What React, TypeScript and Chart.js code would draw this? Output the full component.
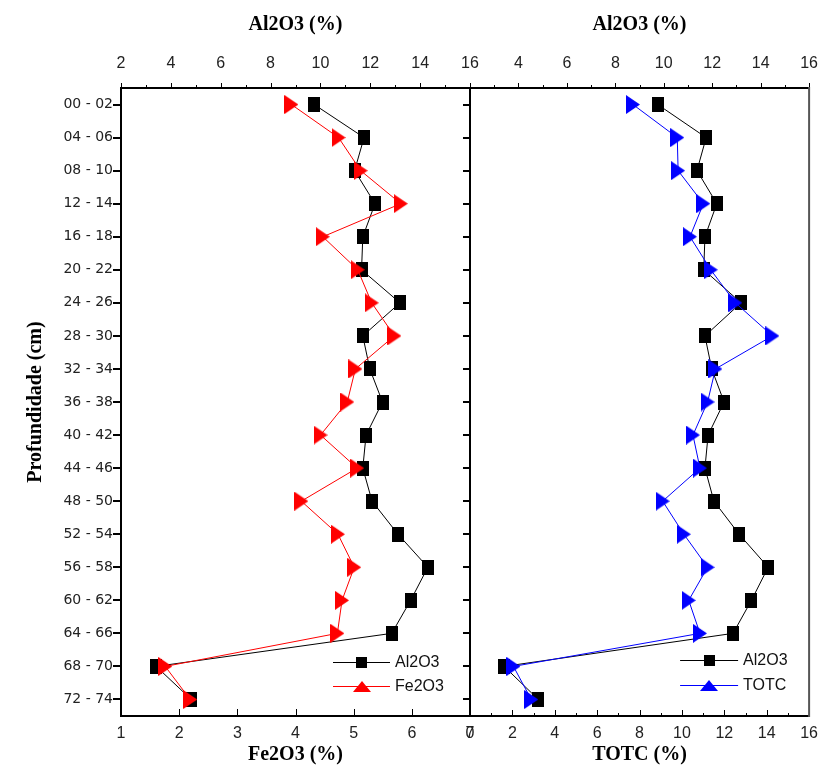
import React, { useEffect, useRef } from 'react';
import { Chart, registerables } from 'chart.js';

Chart.register(...registerables);

// ---------------- data ----------------
const depths = [
  '00 - 02', '04 - 06', '08 - 10', '12 - 14', '16 - 18', '20 - 22', '24 - 26',
  '28 - 30', '32 - 34', '36 - 38', '40 - 42', '44 - 46', '48 - 50', '52 - 54',
  '56 - 58', '60 - 62', '64 - 66', '68 - 70', '72 - 74',
];
const al2o3 = [9.75, 11.75, 11.37, 12.19, 11.7, 11.65, 13.19, 11.7, 11.98, 12.49, 11.83, 11.7, 12.07, 13.11, 14.31, 13.62, 12.86, 3.41, 4.82];
const fe2o3 = [3.93, 4.74, 5.12, 5.81, 4.47, 5.07, 5.31, 5.7, 5.03, 4.89, 4.43, 5.06, 4.1, 4.73, 5.01, 4.8, 4.72, 1.76, 2.19];
const totc = [7.69, 9.78, 9.82, 11.01, 10.38, 11.36, 12.52, 14.27, 11.58, 11.21, 10.52, 10.85, 9.09, 10.09, 11.21, 10.32, 10.85, 2.05, 2.89];

const al2o3Range = [2, 16];
const fe2o3Range = [1, 7];
const totcRange = [0, 16];

const W = 833;
const H = 767;
const NARROW = "'Liberation Sans Narrow', 'Liberation Sans', Arial, sans-serif";
const WIDE = "'DejaVu Sans', Verdana, sans-serif";
const SERIF = "'Liberation Serif', 'Times New Roman', serif";

function makeRect(w: number, h: number, color: string) {
  const c = document.createElement('canvas');
  c.width = w; c.height = h;
  const g = c.getContext('2d')!;
  g.fillStyle = color;
  g.fillRect(0, 0, w, h);
  return c;
}
function makeTri(w: number, h: number, color: string, dir: 'right' | 'up') {
  const c = document.createElement('canvas');
  c.width = w; c.height = h;
  const g = c.getContext('2d')!;
  g.fillStyle = color;
  g.beginPath();
  if (dir === 'right') { g.moveTo(0, 0); g.lineTo(w, h / 2); g.lineTo(0, h); }
  else { g.moveTo(0, h); g.lineTo(w / 2, 0); g.lineTo(w, h); }
  g.closePath();
  g.fill();
  return c;
}

type TickSpec = { id: string; step: number; major: number; edge: 'top' | 'bottom'; dir: number; majorLen: number; minorLen: number };
type LegendItem = { label: string; color: string; marker: HTMLCanvasElement; dy: number };

function makeDecor(cfg: {
  xTicks: TickSpec[];
  yTicksLeftOut: boolean;
  yTicksRightIn: boolean;
  drawLeft: boolean;
  rightColor: string;
  legend: LegendItem[];
  legendLine: [number, number];
  legendText: number;
}) {
  return {
    id: 'decor',
    afterDatasetsDraw(chart: any) {
      const { ctx, chartArea: a } = chart;
      ctx.save();
      // x ticks
      ctx.strokeStyle = '#000';
      ctx.lineWidth = 1;
      for (const t of cfg.xTicks) {
        const s = chart.scales[t.id];
        for (let v = s.min; v <= s.max + 1e-9; v += t.step) {
          const px = Math.round(s.getPixelForValue(v)) + 0.5;
          const isMajor = Math.abs(v / t.major - Math.round(v / t.major)) < 1e-6;
          const len = isMajor ? t.majorLen : t.minorLen;
          const y0 = t.edge === 'top' ? a.top : a.bottom;
          ctx.beginPath();
          ctx.moveTo(px, y0);
          ctx.lineTo(px, y0 + t.dir * len);
          ctx.stroke();
        }
      }
      // y ticks
      const ys = chart.scales.y;
      ctx.lineWidth = 2;
      depths.forEach((_, i) => {
        const py = Math.round(ys.getPixelForValue(i));
        if (cfg.yTicksLeftOut) {
          ctx.beginPath(); ctx.moveTo(a.left - 8, py); ctx.lineTo(a.left, py); ctx.stroke();
        }
        if (cfg.yTicksRightIn) {
          ctx.beginPath(); ctx.moveTo(a.right - 7, py); ctx.lineTo(a.right, py); ctx.stroke();
        }
      });
      // frame
      ctx.lineWidth = 2;
      ctx.strokeStyle = '#000';
      ctx.beginPath();
      ctx.moveTo(a.left, a.top); ctx.lineTo(a.right, a.top);
      ctx.moveTo(a.left, a.bottom); ctx.lineTo(a.right, a.bottom);
      if (cfg.drawLeft) { ctx.moveTo(a.left, a.top - 1); ctx.lineTo(a.left, a.bottom + 1); }
      ctx.stroke();
      ctx.strokeStyle = cfg.rightColor;
      ctx.beginPath();
      ctx.moveTo(a.right, a.top - 1); ctx.lineTo(a.right, a.bottom + 1);
      ctx.stroke();
      // legend
      ctx.font = `16px ${NARROW}`;
      ctx.textBaseline = 'middle';
      ctx.textAlign = 'left';
      for (const it of cfg.legend) {
        const y = a.bottom + it.dy;
        const x0 = a.right + cfg.legendLine[0];
        const x1 = a.right + cfg.legendLine[1];
        ctx.strokeStyle = it.color;
        ctx.lineWidth = 1;
        ctx.beginPath(); ctx.moveTo(x0, y + 0.5); ctx.lineTo(x1, y + 0.5); ctx.stroke();
        const m = it.marker;
        ctx.drawImage(m, Math.round((x0 + x1) / 2 - m.width / 2), Math.round(y - m.height / 2));
        ctx.fillStyle = '#111';
        ctx.fillText(it.label, a.right + cfg.legendText, y + 1);
      }
      ctx.restore();
    },
  };
}

const tickFont = { family: NARROW, size: 16 };
const titleFont = { family: SERIF, size: 20, weight: 'bold' as const };

function xAxis(pos: 'top' | 'bottom', range: number[], step: number, title: string, height: number, hideFirst = false) {
  return {
    type: 'linear' as const,
    position: pos,
    min: range[0],
    max: range[1],
    grid: { display: false, drawTicks: false },
    border: { display: false },
    ticks: {
      stepSize: step,
      padding: pos === 'top' ? 15 : 8,
      font: tickFont,
      color: '#222',
      maxRotation: 0,
      autoSkip: false,
      callback: (v: any) => (hideFirst && v === range[0] ? '' : String(v)),
    },
    title: {
      display: true,
      text: title,
      font: titleFont,
      color: '#000',
      padding: pos === 'top' ? { top: 13, bottom: 0 } : { top: 0, bottom: 0 },
    },
    afterFit: (s: any) => { s.height = height; },
  };
}

export default function App() {
  const leftRef = useRef<HTMLCanvasElement>(null);
  const rightRef = useRef<HTMLCanvasElement>(null);

  useEffect(() => {
    const sq = makeRect(12, 15, '#000');
    const triRed = makeTri(14, 19, '#ff0000', 'right');
    const triBlue = makeTri(14, 19, '#0000ff', 'right');
    const sqL = makeRect(11, 11, '#000');
    const triRedL = makeTri(18, 11, '#ff0000', 'up');
    const triBlueL = makeTri(18, 11, '#0000ff', 'up');

    const yScale = (show: boolean) => ({
      type: 'category' as const,
      labels: depths,
      offset: true,
      position: 'left' as const,
      display: show,
      grid: { display: false, drawTicks: false },
      border: { display: false },
      ticks: { padding: 8, font: { family: WIDE, size: 14 }, color: '#222', autoSkip: false },
      title: {
        display: show,
        text: 'Profundidade (cm)',
        font: titleFont,
        color: '#000',
        padding: { top: 24, bottom: 0 },
      },
      afterFit: (s: any) => { s.width = show ? 121 : 0; },
    });

    const common = {
      responsive: false,
      devicePixelRatio: 1,
      animation: false as const,
      events: [] as any[],
      indexAxis: 'y' as const,
      plugins: { legend: { display: false }, tooltip: { enabled: false } },
    };

    const left = new Chart(leftRef.current!, {
      type: 'line',
      data: {
        labels: depths,
        datasets: [
          {
            label: 'Fe2O3',
            data: depths.map((d, i) => ({ x: fe2o3[i], y: d })) as any,
            xAxisID: 'xBot', yAxisID: 'y',
            borderColor: '#ff0000', backgroundColor: '#ff0000', borderWidth: 1,
            pointStyle: triRed as any, pointRadius: 8, tension: 0, fill: false, order: 1,
          },
          {
            label: 'Al2O3',
            data: depths.map((d, i) => ({ x: al2o3[i], y: d })) as any,
            xAxisID: 'xTop', yAxisID: 'y',
            borderColor: '#000000', backgroundColor: '#000000', borderWidth: 1,
            pointStyle: sq as any, pointRadius: 8, tension: 0, fill: false, order: 2,
          },
        ],
      },
      options: {
        ...common,
        layout: { padding: { left: 0, right: W - 470, top: 0, bottom: 0 } },
        scales: {
          y: yScale(true),
          xTop: xAxis('top', al2o3Range, 2, 'Al2O3 (%)', 88),
          xBot: xAxis('bottom', fe2o3Range, 1, 'Fe2O3 (%)', H - 716),
        } as any,
      },
      plugins: [makeDecor({
        xTicks: [
          { id: 'xTop', step: 1, major: 2, edge: 'top', dir: -1, majorLen: 5, minorLen: 3 },
          { id: 'xBot', step: 1, major: 1, edge: 'bottom', dir: -1, majorLen: 7, minorLen: 4 },
        ],
        yTicksLeftOut: true,
        yTicksRightIn: true,
        drawLeft: true,
        rightColor: '#000',
        legend: [
          { label: 'Al2O3', color: '#000', marker: sqL, dy: -54 },
          { label: 'Fe2O3', color: '#ff0000', marker: triRedL, dy: -30 },
        ],
        legendLine: [-137, -80],
        legendText: -75,
      })],
    });

    const right = new Chart(rightRef.current!, {
      type: 'line',
      data: {
        labels: depths,
        datasets: [
          {
            label: 'TOTC',
            data: depths.map((d, i) => ({ x: totc[i], y: d })) as any,
            xAxisID: 'xBot', yAxisID: 'y',
            borderColor: '#0000ff', backgroundColor: '#0000ff', borderWidth: 1,
            pointStyle: triBlue as any, pointRadius: 8, tension: 0, fill: false, order: 1,
          },
          {
            label: 'Al2O3',
            data: depths.map((d, i) => ({ x: al2o3[i], y: d })) as any,
            xAxisID: 'xTop', yAxisID: 'y',
            borderColor: '#000000', backgroundColor: '#000000', borderWidth: 1,
            pointStyle: sq as any, pointRadius: 8, tension: 0, fill: false, order: 2,
          },
        ],
      },
      options: {
        ...common,
        layout: { padding: { left: 470, right: W - 818, top: 0, bottom: 0 } },
        scales: {
          y: yScale(false),
          xTop: xAxis('top', al2o3Range, 2, 'Al2O3 (%)', 88, true),
          xBot: xAxis('bottom', totcRange, 2, 'TOTC (%)', H - 716),
        } as any,
      },
      plugins: [makeDecor({
        xTicks: [
          { id: 'xTop', step: 1, major: 2, edge: 'top', dir: -1, majorLen: 5, minorLen: 3 },
          { id: 'xBot', step: 1, major: 2, edge: 'bottom', dir: -1, majorLen: 6, minorLen: 3 },
        ],
        yTicksLeftOut: false,
        yTicksRightIn: false,
        drawLeft: false,
        rightColor: '#555',
        legend: [
          { label: 'Al2O3', color: '#000', marker: sqL, dy: -56 },
          { label: 'TOTC', color: '#0000ff', marker: triBlueL, dy: -31 },
        ],
        legendLine: [-129, -71],
        legendText: -66,
      })],
    });

    return () => { left.destroy(); right.destroy(); };
  }, []);

  return (
    <div style={{ position: 'absolute', left: 0, top: 0, width: W, height: H, background: '#fff' }}>
      <canvas ref={leftRef} width={W} height={H} style={{ position: 'absolute', left: 0, top: 0 }} />
      <canvas ref={rightRef} width={W} height={H} style={{ position: 'absolute', left: 0, top: 0 }} />
    </div>
  );
}
